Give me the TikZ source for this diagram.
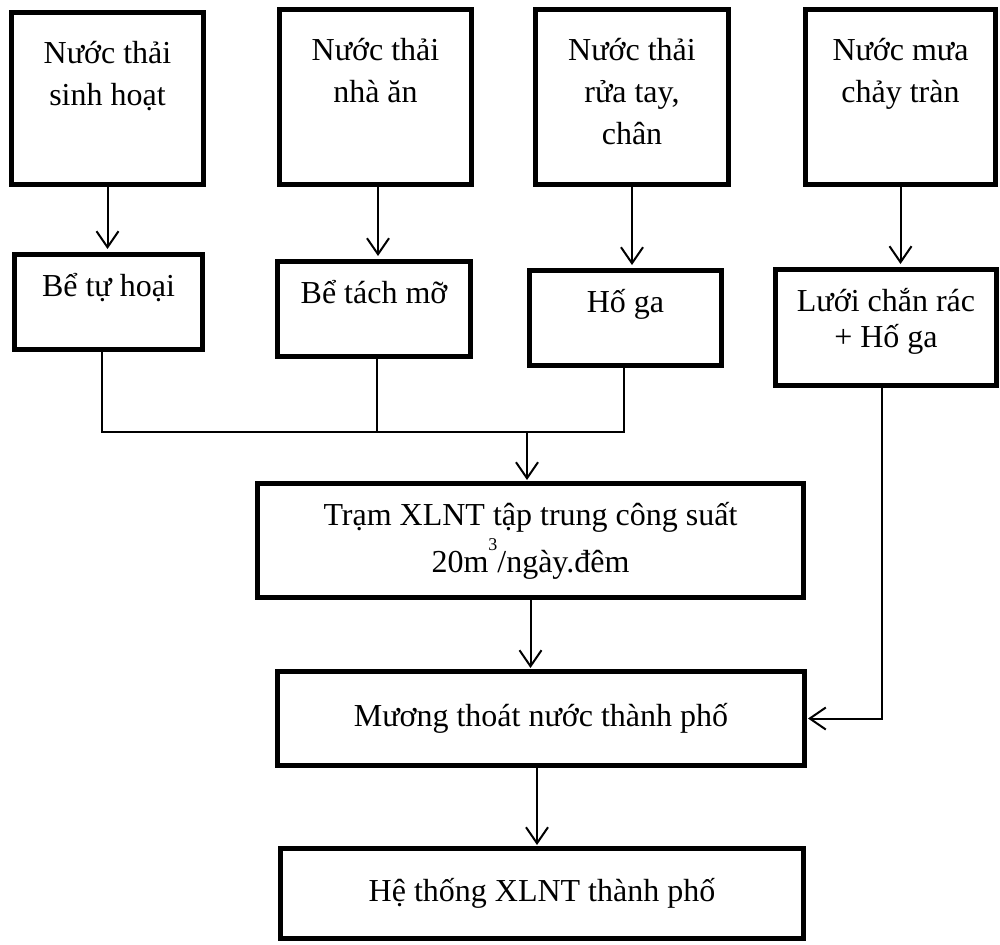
\documentclass[tikz,border=0pt]{standalone}
\usepackage{fontspec}
\setmainfont{Liberation Serif}
\usetikzlibrary{arrows.meta}
\newcommand{\toptext}[4]{\parbox[c][#2][t]{#1}{\centering\rule{0pt}{#3}#4}}

\begin{document}
\begin{tikzpicture}[x=1pt,y=-1pt,>={Straight Barb[length=16pt,width=22pt]},
        font=\fontsize{32}{42}\selectfont,
        box/.style={draw,line width=5pt,inner sep=0pt},
        flow/.style={->,line width=2pt,shorten >=1pt},
        pipe/.style={line width=1.2pt}]
        \useasboundingbox (0,0) rectangle (1000,944);
        % sources
        \node[box] (src1) at (107.5,98.5) {\toptext{192pt}{172pt}{51pt}{Nước thải\\sinh hoạt}};
        \node[box] (src2) at (375.5,97) {\toptext{192pt}{175pt}{51pt}{Nước thải\\nhà ăn}};
        \node[box] (src3) at (632,97) {\toptext{193pt}{175pt}{51pt}{Nước thải\\rửa tay,\\chân}};
        \node[box] (src4) at (900.5,97) {\toptext{190pt}{175pt}{51pt}{Nước mưa\\chảy tràn}};
        % pre-treatment
        \node[box] (tank1) at (108.5,302) {\toptext{188pt}{95pt}{42pt}{Bể tự hoại}};
        \node[box] (tank2) at (374,309) {\toptext{193pt}{95pt}{42pt}{Bể tách mỡ}};
        \node[box] (tank3) at (625.5,318) {\toptext{192pt}{95pt}{42pt}{Hố ga}};
        \node[box] (tank4) at (886,327.5) {\toptext{221pt}{116pt}{42pt}{Lưới chắn rác\\[-6pt]+ Hố ga}};
        % treatment and discharge
        \node[box] (plant) at (530.5,540.5) {\toptext{546pt}{114pt}{42pt}{Trạm XLNT tập trung công suất\\[5pt]20m\raisebox{22pt}{\fontsize{18}{18}\selectfont 3}/ngày.đêm}};
        \node[box,minimum width=527pt,minimum height=94pt] (ditch) at (541,718.5) {Mương thoát nước thành phố};
        \node[box,minimum width=523pt,minimum height=90pt] (city) at (542,893.5) {Hệ thống XLNT thành phố};
        \coordinate (join) at (527,432);

        \draw[flow,shorten >=3pt] (src1) -- (src1 |- tank1.north);
        \draw[flow,shorten >=3pt] ([xshift=2.5pt]src2.south) -- ([xshift=2.5pt]src2.south |- tank2.north);
        \draw[flow,shorten >=3pt] (src3) -- (src3 |- tank3.north);
        \draw[flow,shorten >=3pt] (src4) -- (src4 |- tank4.north);
        \draw[pipe] ([xshift=-6.5pt]tank1.south) |- (join);
        \draw[pipe] ([xshift=3pt]tank2.south) -- ([xshift=3pt]tank2.south |- join);
        \draw[line width=2pt] ([xshift=-1.5pt]tank3.south) |- (join);
        \draw[flow] (join) -- (join |- plant.north);
        \draw[flow] (plant) -- (plant |- ditch.north);
        \draw[flow] ([xshift=-4pt]ditch.south) -- ([xshift=-4pt]ditch.south |- city.north);
        \draw[flow] ([xshift=-4pt]tank4.south) |- (ditch.east);
\end{tikzpicture}
\end{document}
